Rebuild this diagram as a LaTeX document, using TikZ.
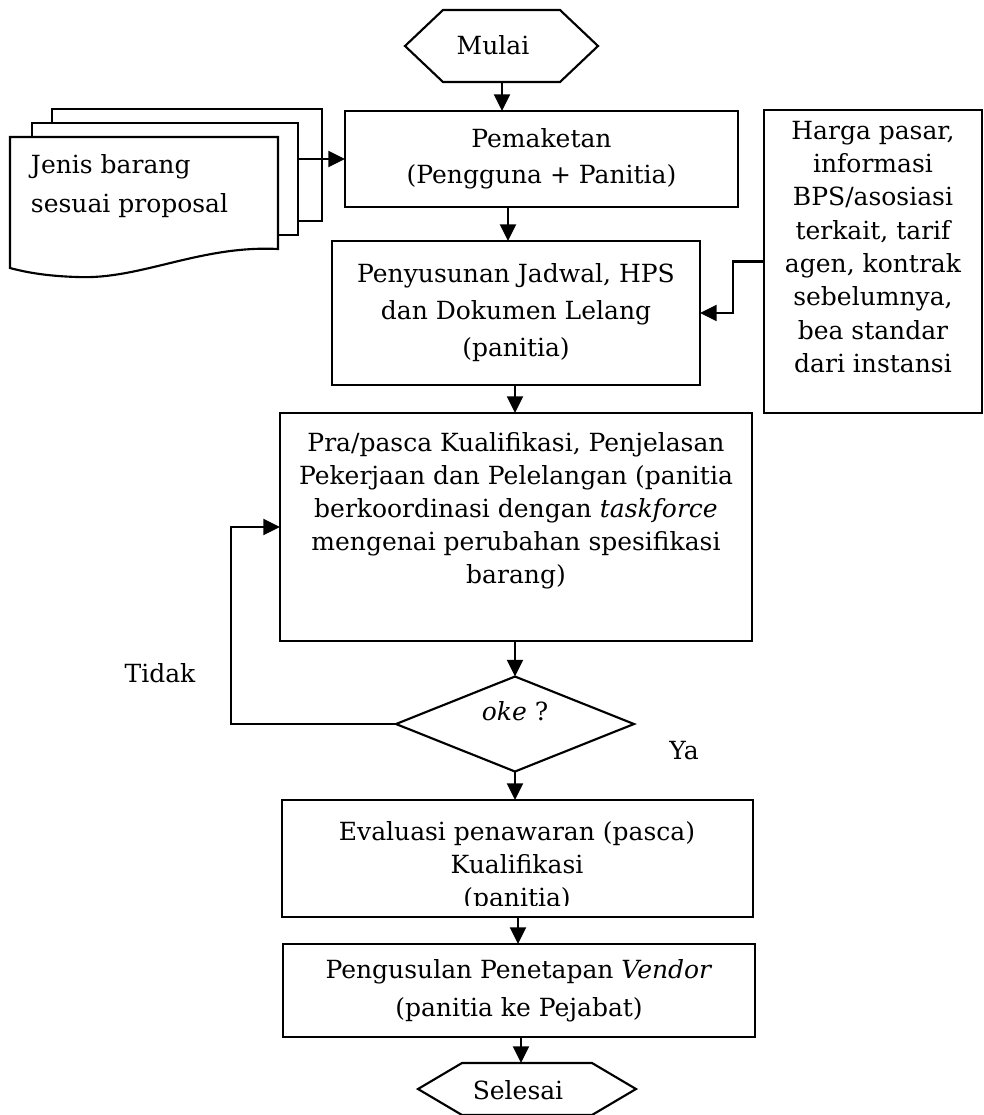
\documentclass[tikz,border=0pt]{standalone}
\usepackage{fontspec}
\setmainfont{DejaVu Serif}
\usetikzlibrary{arrows.meta,shapes.geometric}
\newdimen\pxu \pxu=0.75pt
\begin{document}
\begin{tikzpicture}[x=0.75pt,y=-0.75pt,
  line width=1.6pt,
  every node/.style={inner sep=0pt, outer sep=0pt},
  txt/.style={font=\fontsize{18.75pt}{24.75pt}\selectfont, align=center},
  box/.style={draw, rectangle, fill=white},
  arr/.style={-{Triangle[length=12.5pt,width=12pt]}},
]
\useasboundingbox (0,0) rectangle (984,1115);

% start terminal
\node[minimum width=193\pxu, minimum height=72\pxu] (mulai) at (501.5,46) {};
\draw (mulai.west) -- ([xshift=38\pxu]mulai.north west) -- ([xshift=-38\pxu]mulai.north east)
  -- (mulai.east) -- ([xshift=-38\pxu]mulai.south east) -- ([xshift=38\pxu]mulai.south west) -- cycle;
\node[txt] (mulaitext) at (493,45) {Mulai};

% stacked documents
\node[box, minimum width=270\pxu, minimum height=112\pxu] (backdoc) at (187,165) {};
\node[box, minimum width=266\pxu, minimum height=112\pxu] (middoc) at (165,179) {};
\filldraw[fill=white] (10,137) -- (278,137) -- (278,249)
  .. controls (200,245) and (140,280) .. (77,277)
  .. controls (45,276) and (25,272) .. (10,268) -- cycle;
\node[txt, align=left, anchor=west, font=\fontsize{18.75pt}{29.25pt}\selectfont] (doctext) at (31,186) {Jenis barang\\sesuai proposal};

% process boxes
\node[box, txt, font=\fontsize{18.75pt}{27pt}\selectfont, minimum width=393\pxu, minimum height=96\pxu] (pemaketan) at (541.5,159) {Pemaketan\\(Pengguna + Panitia)};
\node[box, txt, font=\fontsize{18.75pt}{27.75pt}\selectfont, minimum width=368\pxu, minimum height=144\pxu] (penyusunan) at (516,313) {Penyusunan Jadwal, HPS\\dan Dokumen Lelang\\(panitia)};

\node[box, minimum width=218\pxu, minimum height=303\pxu] (info) at (873,261.5) {};
\node[txt, font=\fontsize{18.75pt}{25pt}\selectfont] (infotext) at (873,247) {Harga pasar,\\informasi\\BPS/asosiasi\\terkait, tarif\\agen, kontrak\\sebelumnya,\\bea standar\\dari instansi};

\node[box, minimum width=472\pxu, minimum height=228\pxu] (pra) at (516,527) {};
\node[txt] (pratext) at (516,511) {Pra/pasca Kualifikasi, Penjelasan\\Pekerjaan dan Pelelangan (panitia\\berkoordinasi dengan \textit{taskforce}\\mengenai perubahan spesifikasi\\barang)};

\node[draw, diamond, fill=white, minimum width=238\pxu, minimum height=95\pxu] (dia) at (515,724) {};
\node[txt] (diatext) at (515,711) {\textit{oke} ?};

\node[box, minimum width=471\pxu, minimum height=117\pxu] (evaluasi) at (517.5,858.5) {};
\begin{scope}
  \clip (285,803) rectangle (750,905);
  \node[txt] (evaltext) at (517,867) {Evaluasi penawaran (pasca)\\Kualifikasi\\(panitia)};
\end{scope}

\node[box, txt, font=\fontsize{18.75pt}{28.5pt}\selectfont, minimum width=472\pxu, minimum height=93\pxu] (pengusulan) at (519,990.5) {Pengusulan Penetapan \textit{Vendor}\\(panitia ke Pejabat)};

% end terminal
\node[minimum width=218\pxu, minimum height=52\pxu] (selesai) at (527,1089) {};
\draw (selesai.west) -- ([xshift=44\pxu]selesai.north west) -- ([xshift=-44\pxu]selesai.north east)
  -- (selesai.east) -- ([xshift=-44\pxu]selesai.south east) -- ([xshift=44\pxu]selesai.south west) -- cycle;
\node[txt] (selesaitext) at (518,1090) {Selesai};

% branch labels
\node[txt] (tidak) at (160,673) {Tidak};
\node[txt] (ya) at (684,751) {Ya};

% connector columns
\coordinate (c1) at (502,0);
\coordinate (c2) at (508,0);
\coordinate (c3) at (515,0);
\coordinate (c5) at (518,0);
\coordinate (c6) at (521,0);
\coordinate (loop) at (231,724);

\draw[arr] (mulai.south -| c1) -- (pemaketan.north -| c1);
\draw[arr] (middoc.east |- pemaketan.west) -- (pemaketan.west);
\draw[arr] (pemaketan.south -| c2) -- (penyusunan.north -| c2);
\draw[arr] (info.west) -- ++(-31,0) |- (penyusunan.east);
\draw[arr] (penyusunan.south -| c3) -- (pra.north -| c3);
\draw[arr] (pra.south -| dia.north) -- (dia.north);
\draw[arr] (dia.west) -- (loop) |- (pra.west);
\draw[arr] (dia.south) -- (evaluasi.north -| dia.south);
\draw[arr] (evaluasi.south -| c5) -- (pengusulan.north -| c5);
\draw[arr] (pengusulan.south -| c6) -- (selesai.north -| c6);
\end{tikzpicture}
\end{document}
